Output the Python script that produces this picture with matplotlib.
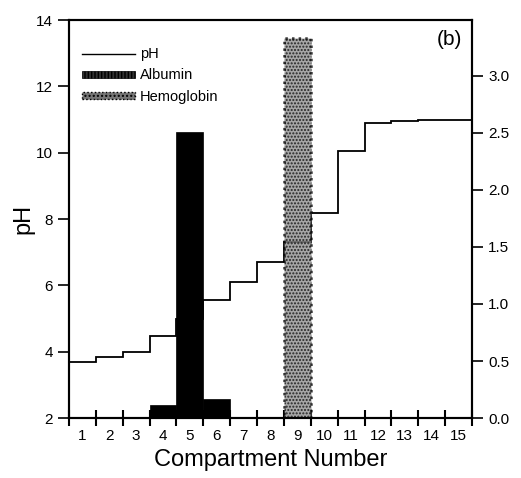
import matplotlib.pyplot as plt
import numpy as np
from matplotlib.lines import Line2D
from matplotlib.patches import Patch

plt.rcParams['font.family'] = ['Liberation Sans', 'DejaVu Sans']
plt.rcParams['hatch.linewidth'] = 1.0

# Дані
compartments = np.arange(1, 16)
ph = [3.69, 3.85, 3.98, 4.48, 5.0, 5.55, 6.1, 6.71, 7.31, 8.18, 10.04, 10.9, 10.95, 11.0, 11.0]
albumin_x = [4, 5, 6]
albumin = [0.11, 2.51, 0.17]
hemoglobin_x = [9]
hemoglobin = [3.33]

fig = plt.figure(figsize=(5.21, 4.78), dpi=100)
ax = fig.add_axes([0.1324, 0.1255, 0.7736, 0.8325])
ax2 = ax.twinx()

# pH як сходинки
edges = np.append(compartments - 0.5, compartments[-1] + 0.5)
ax.stairs(ph, edges, color='black', lw=1.3, zorder=3, baseline=None)

ax2.bar(albumin_x, albumin, width=1.0, color='black', edgecolor='black', lw=0.5)
ax2.bar(hemoglobin_x, hemoglobin, width=1.0, color='#8a8a8a', alpha=0.75,
        edgecolor='black', linestyle=':', lw=1.8, hatch='.....')

ax.set_xlim(0.5, 15.5)
ax.set_ylim(2, 14)
ax2.set_ylim(0, 3.49)

ax.set_xticks(np.arange(0.5, 16, 1.0))
ax.set_xticklabels([])
ax.set_xticks(compartments, minor=True)
ax.set_xticklabels([str(c) for c in compartments], minor=True)
ax.tick_params(axis='x', which='major', direction='inout', length=12, width=1.5)
ax.tick_params(axis='x', which='minor', length=0, labelsize=11, pad=8)
ax.set_yticks(np.arange(2, 15, 2))
ax.tick_params(axis='y', direction='out', length=8, width=1.2, labelsize=11)
ax2.set_yticks(np.arange(0, 3.1, 0.5))
ax2.set_yticklabels([f'{v:.1f}' for v in np.arange(0, 3.1, 0.5)])
ax2.tick_params(axis='y', direction='out', length=8, width=1.2, labelsize=11)

for a in (ax, ax2):
    for s in a.spines.values():
        s.set_linewidth(1.5)

ax.set_xlabel('Compartment Number', fontsize=17, labelpad=4)
ax.set_ylabel('pH', fontsize=17, labelpad=1)

ax.text(0.975, 0.975, '(b)', transform=ax.transAxes, ha='right', va='top', fontsize=15)

handles = [
    Line2D([], [], color='black', lw=1),
    Patch(facecolor='#333333', edgecolor='black', hatch='|||||', lw=0.5),
    Patch(facecolor='#777777', edgecolor='black', hatch='....', linestyle=':', lw=1),
]
ax2.legend(handles, ['pH', 'Albumin', 'Hemoglobin'], loc='upper left', frameon=False,
           bbox_to_anchor=(0.0, 0.965), fontsize=10.5, handlelength=3.6,
           handleheight=0.4, labelspacing=0.5, handletextpad=0.35, borderaxespad=0.5)

fig.savefig('out.png', dpi=100)
